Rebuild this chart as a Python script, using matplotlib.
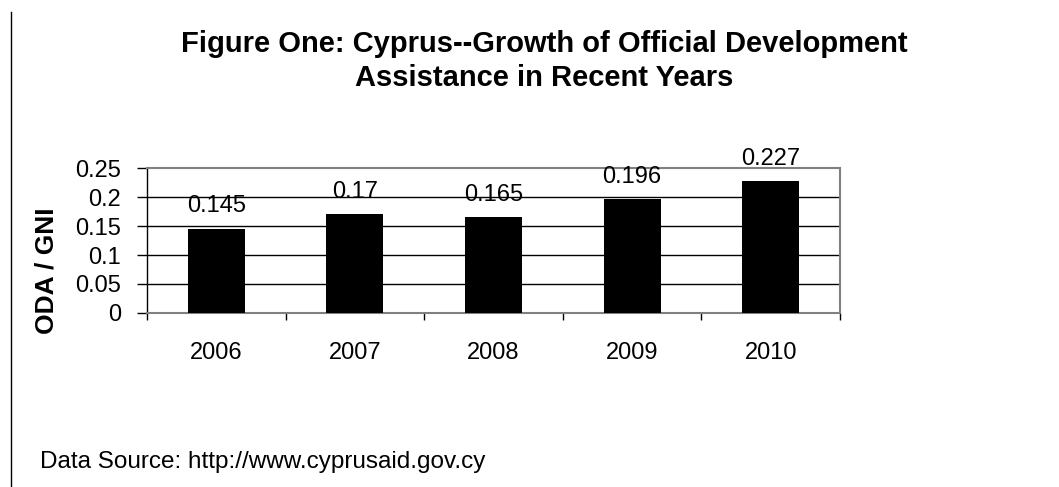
import matplotlib
matplotlib.use("Agg")
import matplotlib.pyplot as plt
from matplotlib.lines import Line2D

years = ["2006", "2007", "2008", "2009", "2010"]
oda_gni = [0.145, 0.17, 0.165, 0.196, 0.227]
value_labels = ["0.145", "0.17", "0.165", "0.196", "0.227"]
yticks = [0, 0.05, 0.1, 0.15, 0.2, 0.25]
ytick_labels = ["0", "0.05", "0.1", "0.15", "0.2", "0.25"]

plt.rcParams['font.family'] = ['Liberation Sans', 'DejaVu Sans']

fig = plt.figure(figsize=(10.59, 4.87), dpi=100)
ax = fig.add_axes([0.1388, 0.3573, 0.6544, 0.2977])

x = list(range(len(years)))
ax.bar(x, oda_gni, width=0.41, color='black', zorder=3)

# data labels above bars
for xi, v, lab in zip(x, oda_gni, value_labels):
    ax.annotate(lab, (xi, v), xytext=(0, 12), textcoords='offset points',
                ha='center', va='baseline', fontsize=17, clip_on=False)

ax.set_xlim(-0.5, 4.5)
ax.set_ylim(0, 0.25)
ax.set_yticks(yticks)
ax.set_yticklabels(ytick_labels)
ax.set_xticks(x)
ax.set_xticklabels(years)
ax.set_xticks([i - 0.5 for i in range(len(years) + 1)], minor=True)

ax.tick_params(axis='y', direction='out', length=7.5, width=1, pad=11, labelsize=17)
ax.tick_params(axis='x', which='major', length=0, pad=21, labelsize=17)
ax.tick_params(axis='x', which='minor', direction='out', length=5, width=1)

# gridlines
for yv in yticks[1:-1]:
    ax.axhline(yv, color='black', lw=1.0, zorder=1)

for s in ['top', 'right', 'bottom']:
    ax.spines[s].set_color('#808080')
    ax.spines[s].set_linewidth(1.5)
ax.spines['left'].set_color('black')
ax.spines['left'].set_linewidth(1.0)

fig.text(544 / 1059, 1 - 30 / 487,
         "Figure One: Cyprus--Growth of Official Development\nAssistance in Recent Years",
         ha='center', va='top', fontsize=21, fontweight='bold', linespacing=1.25)

fig.text(47 / 1059, 1 - 271 / 487, "ODA / GNI", rotation=90, ha='center', va='center',
         fontsize=19, fontweight='bold')

fig.text(40 / 1059, 1 - 468 / 487, "Data Source: http://www.cyprusaid.gov.cy",
         ha='left', va='baseline', fontsize=17.5)

fig.add_artist(Line2D([10.5 / 1059, 10.5 / 1059], [0, 1 - 12 / 487],
                      transform=fig.transFigure, color='black', lw=1))

fig.savefig("out.png", dpi=100, facecolor='white')
